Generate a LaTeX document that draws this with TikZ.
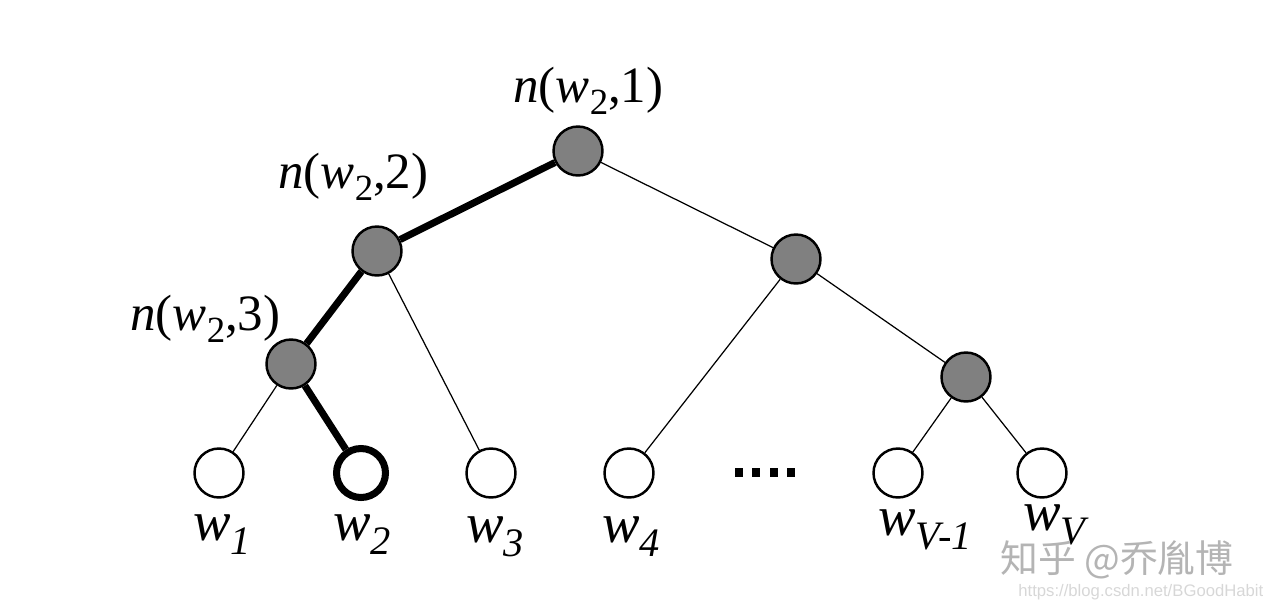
\documentclass[tikz,border=0pt]{standalone}
\usepackage{fontspec}
\setmainfont{Liberation Serif}
\newfontfamily\cjk{Noto Sans CJK SC}
\newfontfamily\urlfont{Liberation Sans}
\usepackage{xcolor}
\usepackage{tikz}

\definecolor{innerfill}{RGB}{128,128,128}
\definecolor{mark}{RGB}{180,180,180}
\definecolor{marklink}{RGB}{215,215,215}

\newcommand{\pathname}[1]{\fontsize{29}{31}\selectfont\textit{n}(\textit{w}\raisebox{-.24em}{\fontsize{21}{22}\selectfont 2},#1)}
\newcommand{\leafname}[1]{\fontsize{32}{34}\selectfont\textit{w}\raisebox{-.26em}{\fontsize{23}{24}\selectfont\itshape #1}}

\begin{document}
\begin{tikzpicture}[x=0.02cm,y=-0.02cm,
    innode/.style={fill=innerfill,draw=black,circle,line width=1.4pt,minimum size=0.98cm,inner sep=0pt},
    leafnode/.style={fill=white,draw=black,circle,line width=1.4pt,minimum size=0.98cm,inner sep=0pt},
    thinedge/.style={black,line width=0.7pt},
    boldedge/.style={black,line width=4pt},
    labeltext/.style={anchor=base west,inner sep=0pt}]

            \useasboundingbox (0,0) rectangle (1268,610);

            \node[innode] (root) at (578,151){};
            \node[innode] (l2) at (377,251){};
            \node[innode] (l3) at (291,364){};
            \node[innode] (r2) at (796,259){};
            \node[innode] (r3) at (966,377){};
            \node[leafnode] (w1) at (219,473){};
            \node[leafnode,line width=4pt] (w2) at (361,473){};
            \node[leafnode] (w3) at (491,473){};
            \node[leafnode] (w4) at (629,473){};
            \node[leafnode] (wv1) at (898,473){};
            \node[leafnode] (wv) at (1042,473){};
            \draw[thinedge] (root)--(r2) (l2)--(w3) (l3)--(w1) (r2)--(w4) (r2)--(r3) (r3)--(wv1) (r3)--(wv);
            \draw[boldedge] (root)--(l2) (l2)--(l3) (l3)--(w2);

            \node[labeltext] (nroot) at (513,102){\pathname{1}};
            \node[labeltext] (nl2) at (278,188){\pathname{2}};
            \node[labeltext] (nl3) at (130,330){\pathname{3}};

            \node[labeltext] (lw1) at (193,540){\leafname{1}};
            \node[labeltext] (lw2) at (333,540){\leafname{2}};
            \node[labeltext] (lw3) at (466,542){\leafname{3}};
            \node[labeltext] (lw4) at (602,542){\leafname{4}};
            \node[labeltext] (lwv1) at (878,535){\leafname{V-1}};
            \node[labeltext] (lwv) at (1023,530){\leafname{V}};

            \foreach \i in {0,...,3}
                \fill (735+17.4*\i,468) rectangle ++(8,9);

            \node[labeltext,text=mark,font=\cjk\fontsize{21.5}{23}\selectfont] (zhihu) at (1000,572){知乎 @乔胤博};
            \node[labeltext,text=marklink,font=\urlfont\fontsize{9.5}{11}\selectfont] (csdn) at (1018,596){https://blog.csdn.net/BGoodHabit};

            \end{tikzpicture}
\end{document}
